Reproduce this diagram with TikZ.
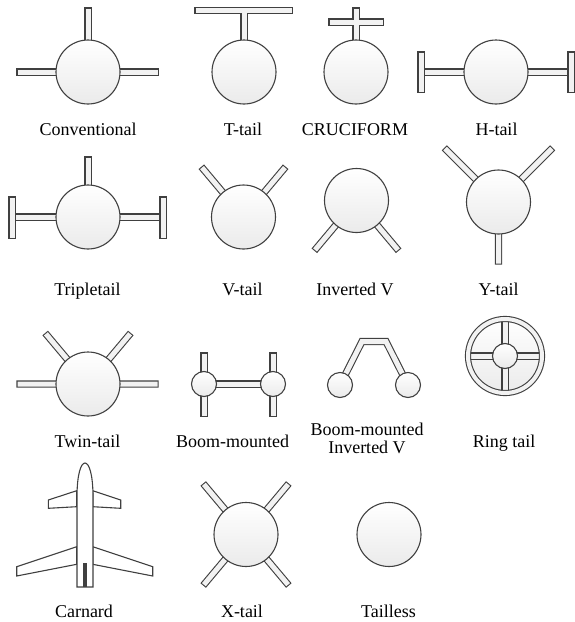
\documentclass[tikz,border=0pt]{standalone}
\usepackage{fontspec}
\setmainfont{Liberation Serif}
\usetikzlibrary{positioning}
\definecolor{edge}{HTML}{404040}
\colorlet{finfill}{gray!10}
\colorlet{bodyshade}{gray!16}

\begin{document}
\begin{tikzpicture}[x=1pt, y=-1pt,
        body/.style={circle, draw=edge, line width=1.1pt, top color=white, bottom color=bodyshade, inner sep=0pt, minimum size=64pt},
        pod/.style={body, minimum size=25pt},
        fin/.style={draw=edge, line width=1.1pt, double=finfill, double distance=5pt, line cap=rect},
        boom/.style={fin, line cap=butt},
        plane/.style={draw=edge, line width=1.1pt, fill=white},
        tag/.style={font=\fontsize{18}{18}\selectfont, inner sep=0pt, anchor=base}]

        \useasboundingbox (0,0) rectangle (575,622);

        \coordinate (conv) at (88,72);
        \draw[fin] (conv) -- (88,11) (20,72) -- (155,72);
        \node[body] (conv-b) at (conv) {};
        \node[tag] (conv-t) at (88,135) {Conventional};

        \coordinate (ttail) at (244,72);
        \draw[fin] (ttail) -- (244,10.5) (198,10.5) -- (289,10.5);
        \node[body] (ttail-b) at (ttail) {};
        \node[tag] (ttail-t) at (243,135) {T-tail};

        \coordinate (cross) at (356,72);
        \draw[fin] (cross) -- (356,11) (332,22) -- (380,22);
        \node[body] (cross-b) at (cross) {};
        \node[tag] (cross-t) at (355,135) {CRUCIFORM};

        \coordinate (htail) at (496,72);
        \draw[fin] (421,72) -- (571,72);
        \draw[fin] (421,55) -- (421,89) (571,55) -- (571,89);
        \node[body] (htail-b) at (htail) {};
        \node[tag] (htail-t) at (496.5,135) {H-tail};

        \coordinate (triple) at (88,217);
        \draw[fin] (triple) -- (88,160) (12,217) -- (163,217);
        \draw[fin] (12,200) -- (12,235) (163,200) -- (163,235);
        \node[body] (triple-b) at (triple) {};
        \node[tag] (triple-t) at (87.5,295) {Tripletail};

        \coordinate (vtail) at (243.5,217);
        \draw[fin] (vtail) -- ++(-130:62) (vtail) -- ++(-50:62);
        \node[body] (vtail-b) at (vtail) {};
        \node[tag] (vtail-t) at (242.5,295) {V-tail};

        \coordinate (invv) at (356.5,200.5);
        \draw[fin] (invv) -- ++(130:62) (invv) -- ++(50:62);
        \node[body] (invv-b) at (invv) {};
        \node[tag] (invv-t) at (355,295) {Inverted V};

        \coordinate (ytail) at (498.5,202);
        \draw[fin] (ytail) -- ++(-135:73) (ytail) -- ++(-45:73) (ytail) -- (498.5,261);
        \node[body] (ytail-b) at (ytail) {};
        \node[tag] (ytail-t) at (498.5,295) {Y-tail};

        \coordinate (twin) at (88,384);
        \draw[fin] (twin) -- ++(-130:63) (twin) -- ++(-50:63) (20,384) -- (155,384);
        \node[body] (twin-b) at (twin) {};
        \node[tag] (twin-t) at (87.5,447) {Twin-tail};

        \coordinate (bml) at (204,384);
        \coordinate (bmr) at (273,384);
        \draw[fin] (204,356) -- (204,413) (273,356) -- (273,413);
        \draw[boom] (bml) -- (bmr);
        \node[pod] (bml-b) at (bml) {};
        \node[pod] (bmr-b) at (bmr) {};
        \node[tag] (bm-t) at (232.5,447) {Boom-mounted};

        \coordinate (bvl) at (340,385);
        \coordinate (bvr) at (408,385);
        \draw[boom] (bvl) -- (362,341.5) -- (386,341.5) -- (bvr);
        \node[pod] (bvl-b) at (bvl) {};
        \node[pod] (bvr-b) at (bvr) {};
        \node[tag, anchor=center, align=center] (bv-t) at (367,438) {Boom-mounted\\Inverted V};

        \coordinate (ring) at (505,356);
        \shade[top color=white, bottom color=bodyshade] (ring) circle (37pt);
        \draw[boom] (505,320) -- (505,392) (469,356) -- (541,356);
        \draw[draw=edge, line width=1.1pt, double=finfill, double distance=4pt] (ring) circle (37pt);
        \node[pod] (ring-b) at (ring) {};
        \node[tag] (ring-t) at (504,447) {Ring tail};

        \draw[plane] (76.7,490.7) -- (48.3,500) -- (48.3,508.3) -- (76.7,506.7) -- cycle;
        \draw[plane] (92.7,490.7) -- (120.7,500) -- (120.7,508.3) -- (92.7,506.7) -- cycle;
        \draw[plane] (76.7,546.7) -- (16.7,566.7) -- (16.7,576) -- (76.7,564.3) -- cycle;
        \draw[plane] (92.7,546.7) -- (152.7,566.7) -- (152.7,576) -- (92.7,564.3) -- cycle;
        \draw[plane] (77,587) -- (77,497) .. controls (77,474) and (81,463) .. (85,463)
            .. controls (89,463) and (93,474) .. (93,497) -- (93,587) -- cycle;
        \fill[edge] (82.7,563) rectangle (87.3,587);
        \node[tag] (canard-t) at (84,617) {Carnard};

        \coordinate (xtail) at (246,534.5);
        \draw[fin] (xtail) -- ++(-130:63) (xtail) -- ++(-50:63) (xtail) -- ++(130:63) (xtail) -- ++(50:63);
        \node[body] (xtail-b) at (xtail) {};
        \node[tag] (xtail-t) at (242,617) {X-tail};

        \node[body] (tailless-b) at (389,534.5) {};
        \node[tag] (tailless-t) at (388.5,617) {Tailless};
\end{tikzpicture}
\end{document}
